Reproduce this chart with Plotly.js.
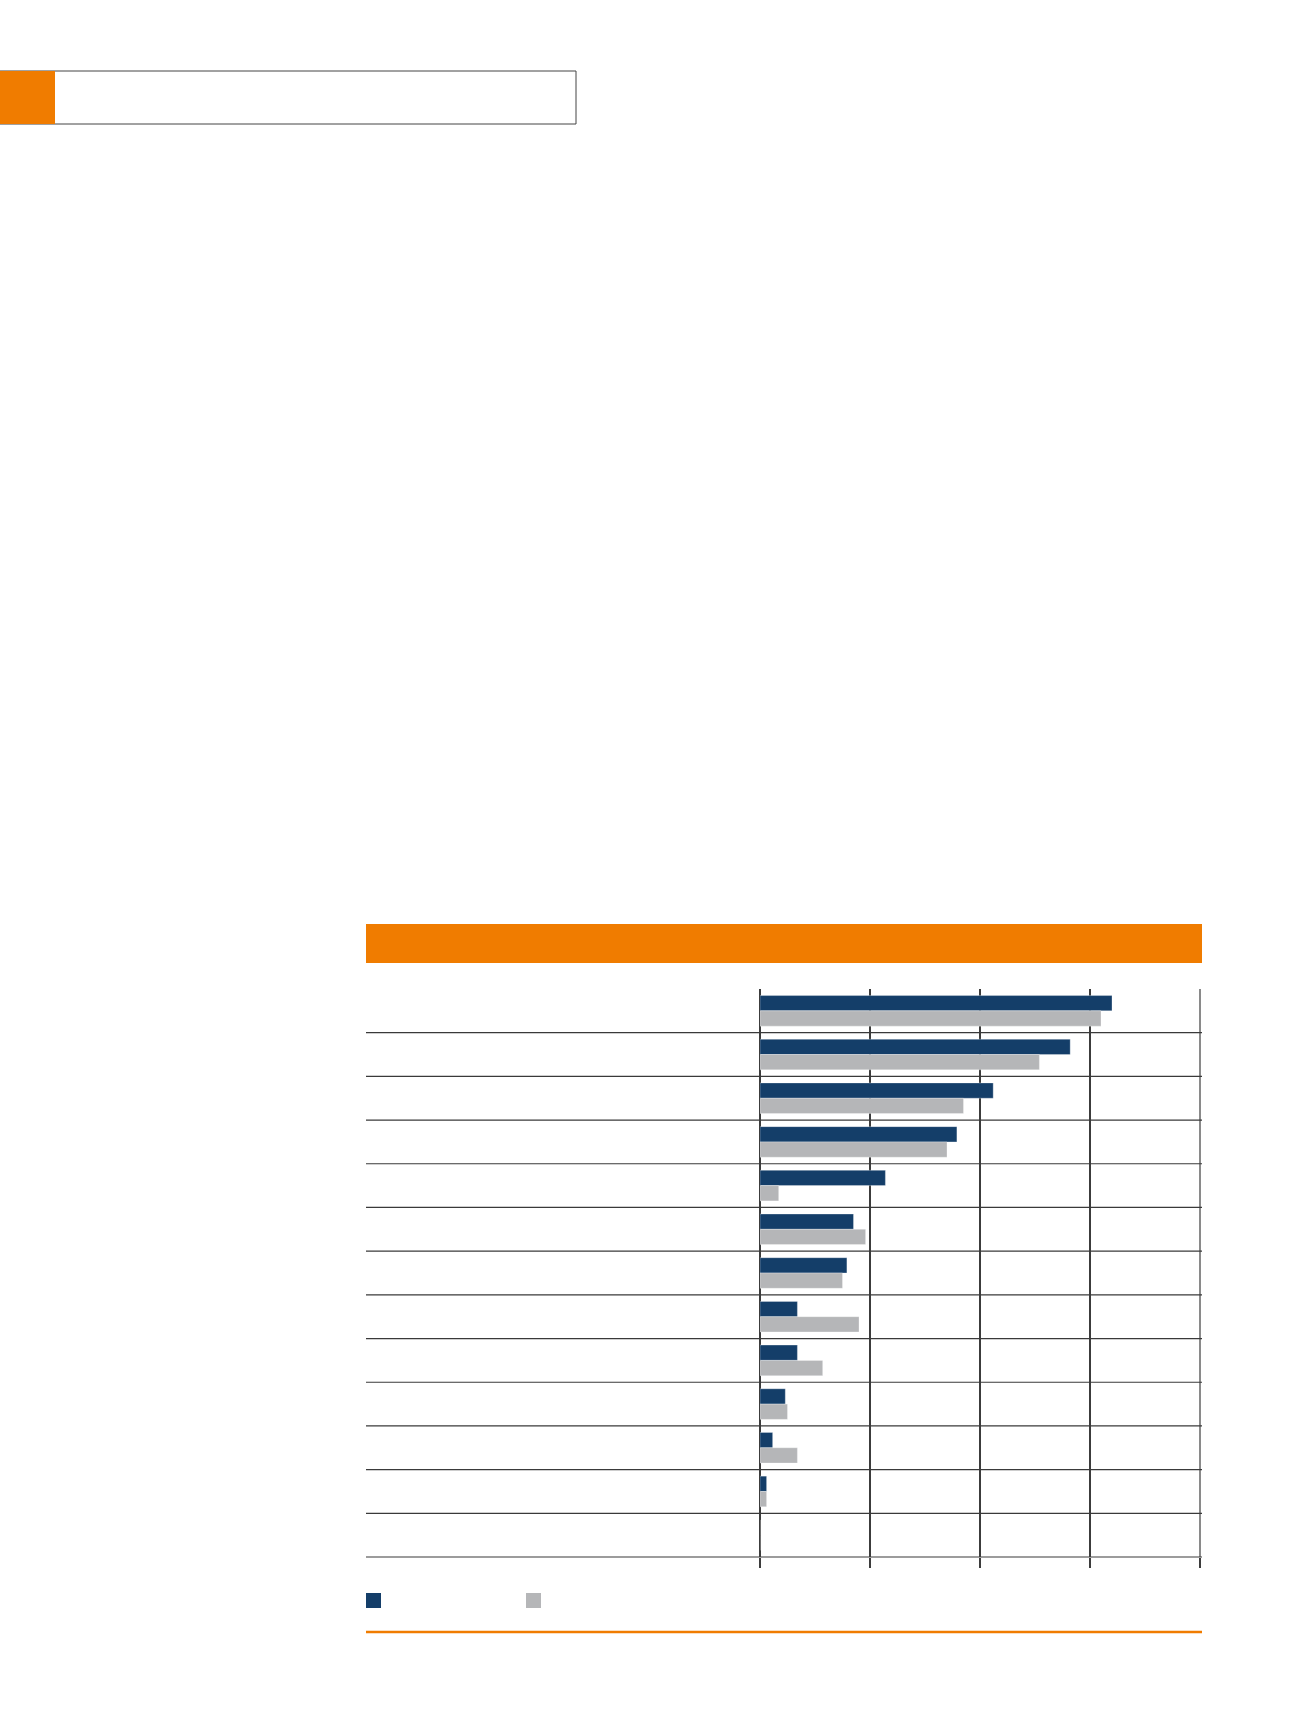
<!DOCTYPE html>
<html>
<head>
<meta charset="utf-8">
<script src="https://cdn.plot.ly/plotly-3.0.1.min.js"></script>
<style>
  html, body { margin: 0; padding: 0; background: #ffffff; }
  #chart { width: 1300px; height: 1734px; }
</style>
</head>
<body>
<div id="chart"></div>
<script>
// Row positions (13 rows, top to bottom); labels are not shown in the reference
var rows = [0, 1, 2, 3, 4, 5, 6, 7, 8, 9, 10, 11, 12];
// Series values (same arbitrary scale as the 4 grid divisions of 10)
var seriesA = [32.0, 28.2, 21.2, 17.9, 11.4, 8.5, 7.9, 3.4, 3.4, 2.3, 1.15, 0.6, 0];
var seriesB = [31.0, 25.4, 18.5, 17.0, 1.7, 9.6, 7.5, 9.0, 5.7, 2.5, 3.4, 0.6, 0];
var gridTicks = [0, 10, 20, 30, 40];

var navy = '#143e69';
var grey = '#b5b6b8';
var orange = '#f07c00';

var W = 1300, H = 1734;
function px(x) { return x / W; }
function py(y) { return 1 - y / H; }

var plotLeft = 760, plotRight = 1200, plotTop = 989, plotBottom = 1557;
var yMin = -0.5, yMax = rows.length - 0.5;
var domTop = py(plotTop), domBottom = py(plotBottom);
function rowToPaper(v) { return domTop - (v - yMin) / (yMax - yMin) * (domTop - domBottom); }

var traces = [
  {
    type: 'bar', orientation: 'h', name: 'A',
    x: seriesA, y: rows,
    marker: { color: navy, line: { color: 'rgba(255,255,255,0.5)', width: 0.6 } },
    hoverinfo: 'none', showlegend: false
  },
  {
    type: 'bar', orientation: 'h', name: 'B',
    x: seriesB, y: rows,
    marker: { color: grey, line: { color: 'rgba(255,255,255,0.5)', width: 0.6 } },
    hoverinfo: 'none', showlegend: false
  }
];

var shapes = [];
// header box with orange square
shapes.push({ type: 'rect', xref: 'paper', yref: 'paper',
  x0: px(0), x1: px(576), y0: py(124), y1: py(71),
  line: { color: '#444444', width: 1 }, fillcolor: '#ffffff' });
shapes.push({ type: 'rect', xref: 'paper', yref: 'paper',
  x0: px(0), x1: px(55), y0: py(124), y1: py(71),
  line: { width: 0 }, fillcolor: orange });
// orange band above chart
shapes.push({ type: 'rect', xref: 'paper', yref: 'paper',
  x0: px(366), x1: px(1202), y0: py(963), y1: py(924),
  line: { width: 0 }, fillcolor: orange });
// horizontal row separators, extending left across the label column
for (var i = 0; i < rows.length; i++) {
  var yy = rowToPaper(rows[i] + 0.5);
  shapes.push({ type: 'line', xref: 'paper', yref: 'paper',
    x0: px(366), x1: px(1202), y0: yy, y1: yy,
    line: { color: '#3a3a3a', width: 1.2 } });
}
// rightmost grid line (at the range end, drawn unclipped)
shapes.push({ type: 'line', xref: 'paper', yref: 'paper',
  x0: px(plotRight), x1: px(plotRight),
  y0: domBottom, y1: domTop,
  line: { color: '#3c3c3c', width: 1.2 } });
// legend swatches
shapes.push({ type: 'rect', xref: 'paper', yref: 'paper',
  x0: px(366), x1: px(381), y0: py(1608), y1: py(1593),
  line: { width: 0 }, fillcolor: navy });
shapes.push({ type: 'rect', xref: 'paper', yref: 'paper',
  x0: px(526), x1: px(541), y0: py(1608), y1: py(1593),
  line: { width: 0 }, fillcolor: grey });
// bottom orange rule
shapes.push({ type: 'line', xref: 'paper', yref: 'paper',
  x0: px(366), x1: px(1202), y0: py(1632), y1: py(1632),
  line: { color: orange, width: 2.5 } });

var layout = {
  width: W, height: H,
  margin: { l: 0, r: 0, t: 0, b: 0 },
  paper_bgcolor: '#ffffff', plot_bgcolor: '#ffffff',
  barmode: 'group', bargap: 0.3, bargroupgap: 0,
  showlegend: false,
  xaxis: {
    domain: [px(plotLeft), px(plotRight)],
    range: [0, 40], fixedrange: true,
    tickmode: 'array', tickvals: gridTicks,
    showticklabels: false,
    showgrid: true, gridcolor: '#3c3c3c', gridwidth: 1.2,
    zeroline: true, zerolinecolor: '#3c3c3c', zerolinewidth: 1.2,
    ticks: 'outside', ticklen: 10, tickcolor: '#3c3c3c', tickwidth: 1.2,
    showline: false
  },
  yaxis: {
    domain: [domBottom, domTop],
    range: [yMax, yMin], fixedrange: true,
    tickmode: 'array', tickvals: rows,
    showticklabels: false, showgrid: false, zeroline: false,
    ticks: '', showline: false
  },
  shapes: shapes
};

Plotly.newPlot('chart', traces, layout, { displayModeBar: false, staticPlot: true });
</script>
</body>
</html>
